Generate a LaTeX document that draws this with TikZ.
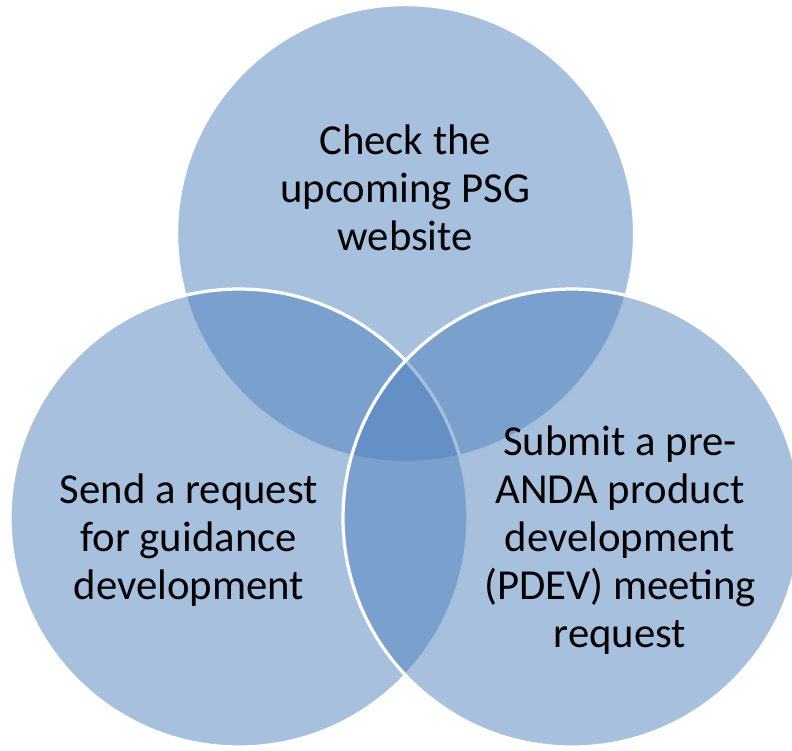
\documentclass[tikz,border=0pt]{standalone}
\usepackage{fontspec}
\setmainfont{Carlito}
\usepackage{tikz}

\definecolor{vennblue}{RGB}{79,129,189}

\begin{document}
\begin{tikzpicture}[
	venn/.style={circle, minimum size=11.45cm, inner sep=0pt, fill=vennblue, fill opacity=0.5, draw=white, line width=2.3pt},
	label/.style={align=center, font=\fontsize{30.4}{34}\selectfont, text=black}]
	\useasboundingbox (0, 0) rectangle (19.8, -18.75);
	\node[venn] (CT) at (10.14, -5.84) {};
	\node[venn] (CL) at (5.975, -12.95) {};
	\node[venn] (CR) at (14.3, -12.95) {};
	\node[label] (TT) at (10.13, -4.7) {Check the\\upcoming PSG\\website};
	\node[label] (TL) at (4.72, -13.5) {Send a request\\for guidance\\development};
	\node[label] (TR) at (15.5, -13.5) {Submit a pre-\\ANDA product\\development\\(PDEV) meeting\\request};
\end{tikzpicture}
\end{document}
